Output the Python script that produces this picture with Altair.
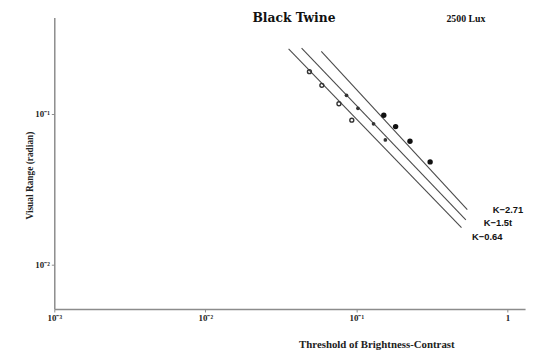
import altair as alt
import pandas as pd

# ---- data ----
series = ["K−2.71", "K−1.5t", "K−0.64"]
line_x_start = [0.0586, 0.0434, 0.0356]
line_y_start = [0.2606, 0.274, 0.271]
line_x_end = [0.543, 0.531, 0.497]
line_y_end = [0.0232, 0.0198, 0.0176]

pts_k271_x = [0.152, 0.182, 0.2265, 0.308]
pts_k271_y = [0.0982, 0.0825, 0.0659, 0.0481]
pts_k151_x = [0.0861, 0.1025, 0.130, 0.1556]
pts_k151_y = [0.133, 0.109, 0.0861, 0.0673]
pts_k064_x = [0.0489, 0.0591, 0.0767, 0.0933]
pts_k064_y = [0.191, 0.155, 0.117, 0.0910]

label_x = [0.800, 0.698, 0.583]
label_y = [0.0229, 0.0190, 0.0153]

x_ticks = [0.001, 0.01, 0.1, 1]
x_tick_labels = ["10⁻³", "10⁻²", "10⁻¹", "1"]
y_ticks = [0.01, 0.1]
y_tick_labels = ["10⁻²", "10⁻¹"]
x_domain = [0.001, 1.31]
y_domain = [0.00508, 0.437]

title_text = ["Black Twine", "2500 Lux"]
title_x = [0.0205, 0.395]
title_y = [0.43, 0.43]

# ---- tables ----
lines = pd.DataFrame(
    [dict(series=s, x=x0, y=y0) for s, x0, y0 in zip(series, line_x_start, line_y_start)]
    + [dict(series=s, x=x1, y=y1) for s, x1, y1 in zip(series, line_x_end, line_y_end)]
)
p271 = pd.DataFrame({"x": pts_k271_x, "y": pts_k271_y})
p151 = pd.DataFrame({"x": pts_k151_x, "y": pts_k151_y})
p064 = pd.DataFrame({"x": pts_k064_x, "y": pts_k064_y})
labels = pd.DataFrame({"x": label_x, "y": label_y, "t": series})
big_title = pd.DataFrame({"x": title_x[:1], "y": title_y[:1], "t": title_text[:1]})
small_title = pd.DataFrame({"x": title_x[1:], "y": title_y[1:], "t": title_text[1:]})


def label_expr(vals, texts):
    expr = "''"
    for v, t in reversed(list(zip(vals, texts))):
        expr = f"abs(datum.value - {v}) < {v * 0.01} ? '{t}' : " + expr
    return expr


x_enc = alt.X(
    "x:Q",
    scale=alt.Scale(type="log", domain=x_domain, nice=False, clamp=False),
    axis=alt.Axis(
        values=x_ticks,
        labelExpr=label_expr(x_ticks, x_tick_labels),
        title="Threshold of Brightness-Contrast",
        titleX=327,
        titleY=36,
        titleAnchor="middle",
        titleAlign="center",
        titleBaseline="middle",
        titleFontSize=11,
        tickSize=3,
        labelPadding=2,
        labelFlush=False,
    ),
)
y_enc = alt.Y(
    "y:Q",
    scale=alt.Scale(type="log", domain=y_domain, nice=False, clamp=False),
    axis=alt.Axis(
        values=y_ticks,
        labelExpr=label_expr(y_ticks, y_tick_labels),
        title="Visual Range (radian)",
        titleX=-25,
        titleY=160,
        titleAlign="center",
        titleBaseline="middle",
        titleAngle=270,
        tickSize=3,
        labelPadding=2,
        labelFlush=False,
    ),
)

line_layer = alt.Chart(lines).mark_line(color="#4a4a4a", strokeWidth=1.1).encode(
    x=x_enc, y=y_enc, detail="series:N"
)
pt271 = alt.Chart(p271).mark_point(
    shape="circle", filled=True, color="#111", size=30, opacity=1
).encode(x=x_enc, y=y_enc)
pt151 = alt.Chart(p151).mark_point(
    shape="circle", filled=True, color="#333", size=14, opacity=1
).encode(x=x_enc, y=y_enc)
pt064 = alt.Chart(p064).mark_point(
    shape="circle", filled=False, color="#333", size=16, strokeWidth=1.4, opacity=1
).encode(x=x_enc, y=y_enc)

label_layer = alt.Chart(labels).mark_text(
    align="left", baseline="middle", font="Liberation Sans", fontWeight="bold",
    fontSize=9.5, color="#111"
).encode(x=x_enc, y=y_enc, text="t:N")

big_title_layer = alt.Chart(big_title).mark_text(
    align="left", baseline="middle", font="DejaVu Serif", fontWeight="bold",
    fontSize=12.5, color="#111"
).encode(x=x_enc, y=y_enc, text="t:N")

small_title_layer = alt.Chart(small_title).mark_text(
    align="left", baseline="middle", font="Liberation Serif", fontWeight="bold",
    fontSize=10, color="#111"
).encode(x=x_enc, y=y_enc, text="t:N")

chart = (
    alt.layer(line_layer, pt064, pt151, pt271, label_layer, big_title_layer, small_title_layer)
    .properties(
        width=478,
        height=296,
        autosize=alt.AutoSizeParams(type="none"),
        padding={"left": 47, "top": 7, "right": 5, "bottom": 41},
        background="white",
    )
    .configure_view(stroke=None)
    .configure_axis(
        grid=False,
        domainColor="#8c8c8c",
        domainWidth=1.5,
        tickColor="#8c8c8c",
        labelFont="Liberation Serif",
        labelFontWeight="bold",
        labelFontSize=9,
        labelColor="#222",
        titleFont="Liberation Serif",
        titleFontWeight="bold",
        titleFontSize=9.5,
        titleColor="#222",
    )
)

chart.save("out.html", embed_options={"renderer": "svg", "actions": False})
